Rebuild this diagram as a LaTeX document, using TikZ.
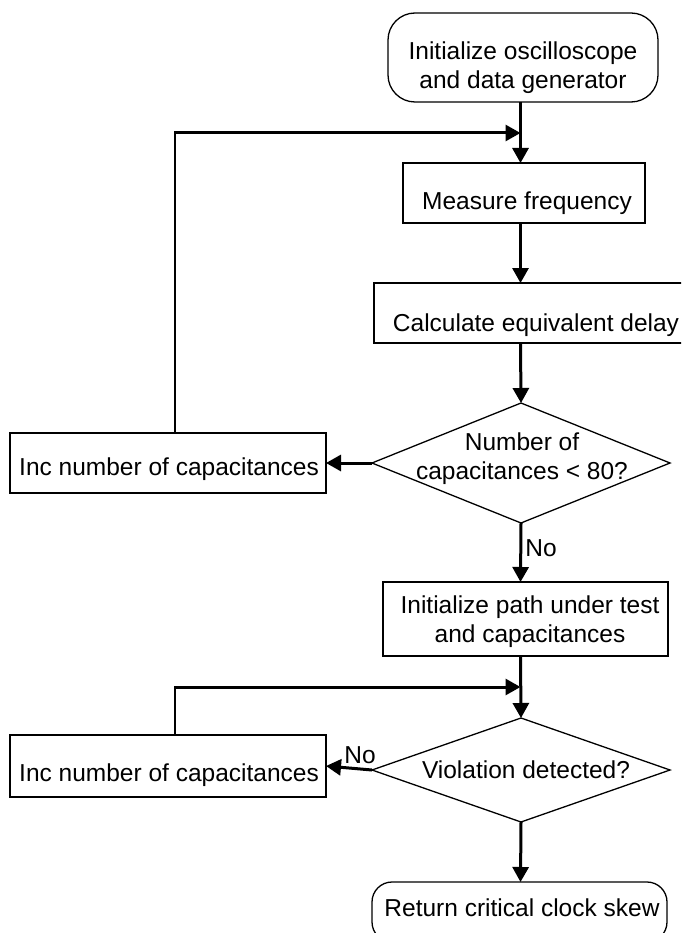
\documentclass[tikz,border=0pt]{standalone}
\usepackage{fontspec}
\setmainfont{Liberation Sans}
\usetikzlibrary{shapes.geometric,arrows.meta}
\begin{document}
\begin{tikzpicture}[x=1pt,y=-1pt,
  box/.style={draw,line width=1.3pt,inner sep=0pt,outer sep=0pt},
  dia/.style={draw,line width=1.3pt,diamond,inner sep=0pt,outer sep=0pt},
  txt/.style={font=\fontsize{24.5}{29}\selectfont,align=center,inner sep=0pt},
  flow/.style={line width=3pt,-{Triangle[length=15pt,width=16pt]}},
  loopline/.style={line width=1.3pt}
]
\useasboundingbox (0,0) rectangle (681,933);
\clip (0,0) rectangle (681,933);
\coordinate (ax) at (520.5,0);
% boxes
\node[box,rounded corners=27pt,minimum width=270pt,minimum height=89pt] (init) at (523,57.5) {};
\node[txt] (initT) at (523,67.5) {Initialize oscilloscope\\and data generator};
\node[box,minimum width=242pt,minimum height=60pt] (meas) at (524,193) {};
\node[txt] (measT) at (527,203) {Measure frequency};
\node[box,minimum width=320pt,minimum height=60pt] (calc) at (534,313) {};
\node[txt] (calcT) at (536,325) {Calculate equivalent delay};
\node[dia,minimum width=298pt,minimum height=120pt] (q1) at (521,463) {};
\node[txt] (q1T) at (522,459) {Number of\\capacitances < 80?};
\node[box,minimum width=316pt,minimum height=60pt] (inc1) at (168,463) {};
\node[txt] (inc1T) at (169,469) {Inc number of capacitances};
\node[txt] (no1) at (541,548) {No};
\node[box,minimum width=285pt,minimum height=74pt] (ipath) at (525.5,619) {};
\node[txt] (ipathT) at (530,621.5) {Initialize path under test\\and capacitances};
\node[dia,minimum width=298pt,minimum height=104pt] (q2) at (521,770) {};
\node[txt] (q2T) at (526,770) {Violation detected?};
\node[box,minimum width=316pt,minimum height=62pt] (inc2) at (168,766) {};
\node[txt] (inc2T) at (169,775) {Inc number of capacitances};
\node[txt] (no2) at (360,755) {No};
\node[box,rounded corners=20pt,minimum width=295pt,minimum height=60pt] (ret) at (519.5,912) {};
\node[txt] (retT) at (522,908) {Return critical clock skew};
% loop corners
\coordinate (c1) at (175,133);
\coordinate (j1) at (520.5,133);
\coordinate (c2) at (175,687);
\coordinate (j2) at (520.5,687);
% main flow
\draw[flow] (init.south -| ax) -- (meas.north -| ax);
\draw[flow] (meas.south -| ax) -- (calc.north -| ax);
\draw[flow] (calc.south -| ax) -- (q1.north);
\draw[flow] (q1.west) -- (inc1.east);
\draw[flow] (q1.south) -- (ipath.north -| ax);
\draw[flow] (ipath.south -| ax) -- (q2.north);
\draw[flow] (q2.west) -- (inc2.east);
\draw[flow] (q2.south) -- (ret.north -| ax);
% loops
\draw[loopline] (inc1.north -| c1) -- ([yshift=-1.5pt]c1);
\draw[flow] ([xshift=-0.65pt]c1) -- (j1);
\draw[loopline] (inc2.north -| c2) -- ([yshift=-1.5pt]c2);
\draw[flow] ([xshift=-0.65pt]c2) -- (j2);
\end{tikzpicture}
\end{document}
